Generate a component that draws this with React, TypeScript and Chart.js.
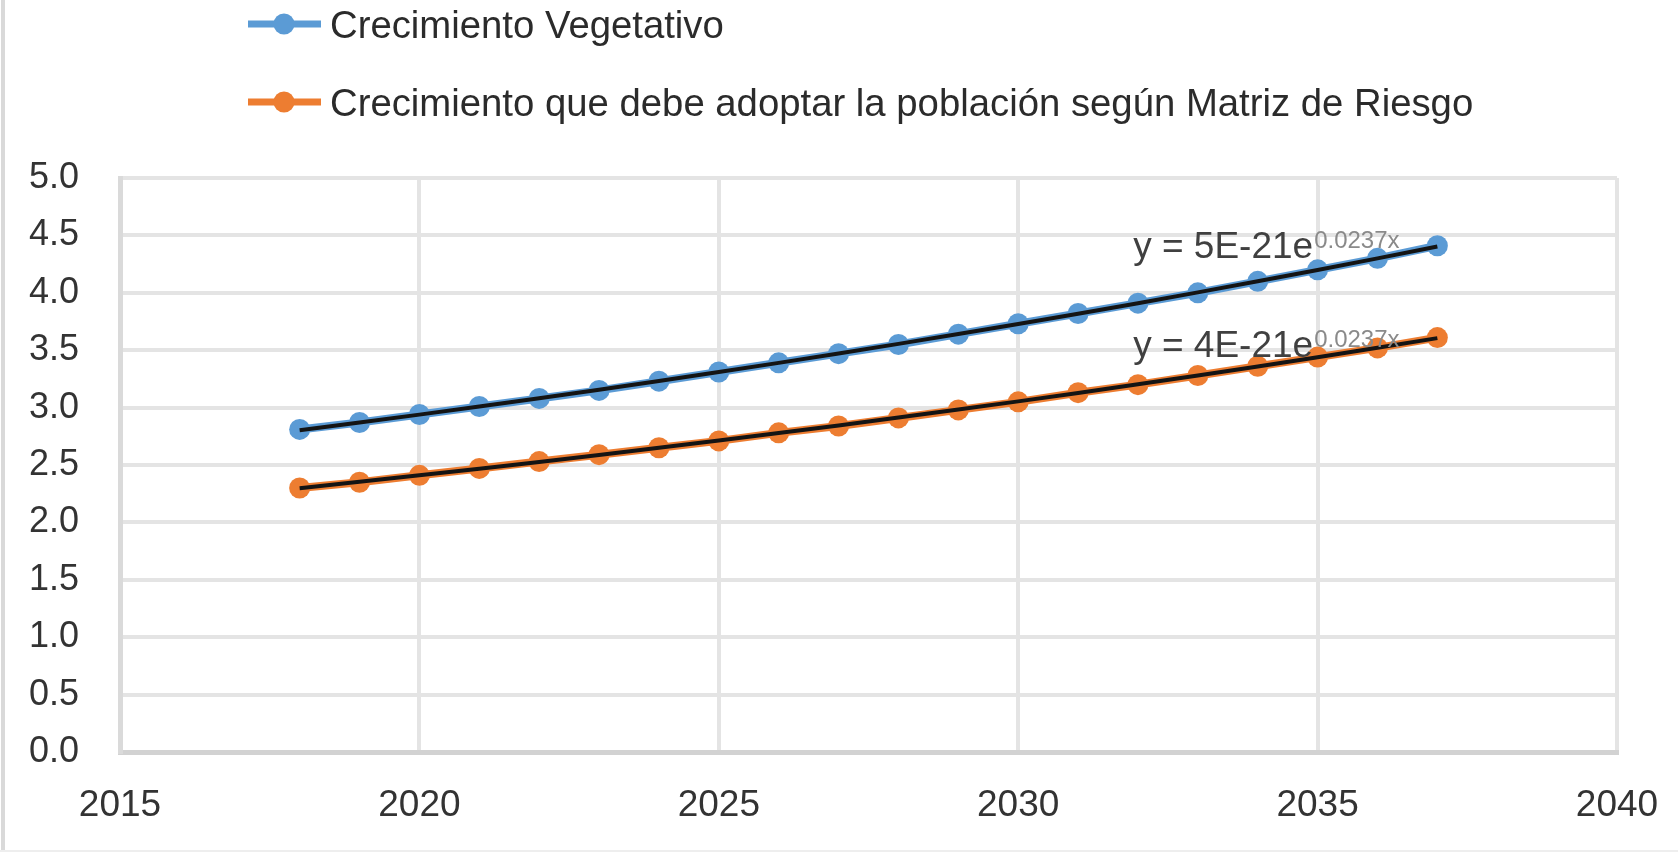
import React, { useEffect, useRef } from "react";
import { Chart, registerables } from "chart.js";

Chart.register(...registerables);

// ---------- data ----------
const years = [2018, 2019, 2020, 2021, 2022, 2023, 2024, 2025, 2026, 2027, 2028, 2029, 2030, 2031, 2032, 2033, 2034, 2035, 2036, 2037];
const vegetativo = [2.81, 2.87, 2.94, 3.01, 3.08, 3.15, 3.23, 3.31, 3.39, 3.47, 3.55, 3.64, 3.73, 3.82, 3.91, 4.0, 4.1, 4.2, 4.3, 4.41];
const matriz = [2.3, 2.35, 2.41, 2.47, 2.53, 2.59, 2.65, 2.71, 2.78, 2.84, 2.91, 2.98, 3.05, 3.13, 3.2, 3.28, 3.36, 3.44, 3.52, 3.61];
const seriesNames = ["Crecimiento Vegetativo", "Crecimiento que debe adoptar la población según Matriz de Riesgo"];
const trendLabels = ["y = 5E-21e", "y = 4E-21e"];
const trendExponents = ["0.0237x", "0.0237x"];
const xMin = 2015;
const xMax = 2040;
const xStep = 5;
const yMin = 0;
const yMax = 5;
const yStep = 0.5;

// ---------- styles ----------
const BLUE = "#5B9BD5";
const ORANGE = "#ED7D31";
const TEXT = "#333333";
const FONT = "'Liberation Sans', Arial, sans-serif";

// exponential least-squares trendline (as Excel does)
function expTrend(xs: number[], ys: number[]) {
  const n = xs.length;
  const mx = xs.reduce((a, b) => a + b, 0) / n;
  const ly = ys.map((v) => Math.log(v));
  const my = ly.reduce((a, b) => a + b, 0) / n;
  let sxy = 0;
  let sxx = 0;
  for (let i = 0; i < n; i++) {
    sxy += (xs[i] - mx) * (ly[i] - my);
    sxx += (xs[i] - mx) * (xs[i] - mx);
  }
  const b = sxy / sxx;
  return xs.map((x) => ({ x, y: Math.exp(my + b * (x - mx)) }));
}

const toPts = (ys: number[]) => years.map((x, i) => ({ x, y: ys[i] }));

const framePlugin = {
  id: "frame",
  beforeDraw(chart: any) {
    const ctx = chart.ctx;
    ctx.save();
    ctx.fillStyle = "#ffffff";
    ctx.fillRect(0, 0, chart.width, chart.height);
    ctx.strokeStyle = "#d9d9d9";
    ctx.lineWidth = 4;
    ctx.beginPath();
    ctx.moveTo(3, 0);
    ctx.lineTo(3, chart.height);
    ctx.stroke();
    ctx.strokeStyle = "#eeeeee";
    ctx.lineWidth = 2;
    ctx.beginPath();
    ctx.moveTo(0, chart.height - 1);
    ctx.lineTo(chart.width, chart.height - 1);
    ctx.stroke();
    ctx.restore();
  },
};

const legendPlugin = {
  id: "customLegend",
  afterDraw(chart: any) {
    const ctx = chart.ctx;
    const colors = [BLUE, ORANGE];
    const rowsY = [24, 102];
    ctx.save();
    seriesNames.forEach((name, i) => {
      const y = rowsY[i];
      ctx.strokeStyle = colors[i];
      ctx.lineWidth = 7;
      ctx.beginPath();
      ctx.moveTo(248, y);
      ctx.lineTo(321, y);
      ctx.stroke();
      ctx.fillStyle = colors[i];
      ctx.beginPath();
      ctx.arc(284, y, 10.5, 0, Math.PI * 2);
      ctx.fill();
      ctx.fillStyle = "#2b2b2b";
      ctx.font = `38.3px ${FONT}`;
      ctx.textBaseline = "alphabetic";
      ctx.textAlign = "left";
      ctx.fillText(name, 330, y + 13.5);
    });
    ctx.restore();
  },
};

const equationPlugin = {
  id: "equations",
  afterDatasetsDraw(chart: any) {
    const ctx = chart.ctx;
    const xs = chart.scales.x;
    const ys = chart.scales.y;
    const anchorsY = [4.3, 3.44];
    ctx.save();
    trendLabels.forEach((lab, i) => {
      const x = xs.getPixelForValue(2031.92);
      const y = ys.getPixelForValue(anchorsY[i]);
      ctx.font = `37px ${FONT}`;
      ctx.fillStyle = "#404040";
      ctx.textAlign = "left";
      ctx.textBaseline = "alphabetic";
      ctx.fillText(lab, x, y);
      const w = ctx.measureText(lab).width;
      ctx.font = `24px ${FONT}`;
      ctx.fillStyle = "#8a8a8a";
      ctx.fillText(trendExponents[i], x + w + 1, y - 10);
    });
    ctx.restore();
  },
};

export default function App() {
  const ref = useRef<HTMLCanvasElement | null>(null);

  useEffect(() => {
    document.body.style.margin = "0";
    const canvas = ref.current;
    if (!canvas) return;
    const chart = new Chart(canvas, {
      type: "line",
      data: {
        datasets: [
          {
            label: seriesNames[0] + " trend",
            data: expTrend(years, vegetativo),
            borderColor: "#141414",
            borderWidth: 4,
            pointRadius: 0,
            fill: false,
            order: 0,
          },
          {
            label: seriesNames[1] + " trend",
            data: expTrend(years, matriz),
            borderColor: "#141414",
            borderWidth: 4,
            pointRadius: 0,
            fill: false,
            order: 0,
          },
          {
            label: seriesNames[0],
            data: toPts(vegetativo),
            borderColor: BLUE,
            backgroundColor: BLUE,
            borderWidth: 8,
            pointRadius: 10.5,
            pointBorderWidth: 0,
            pointBackgroundColor: BLUE,
            fill: false,
            order: 1,
          },
          {
            label: seriesNames[1],
            data: toPts(matriz),
            borderColor: ORANGE,
            backgroundColor: ORANGE,
            borderWidth: 8,
            pointRadius: 10.5,
            pointBorderWidth: 0,
            pointBackgroundColor: ORANGE,
            fill: false,
            order: 1,
          },
        ],
      },
      options: {
        animation: false,
        responsive: false,
        devicePixelRatio: 1,
        layout: { padding: { top: 178, right: 61, bottom: 0, left: 0 } },
        plugins: {
          legend: { display: false },
          tooltip: { enabled: false },
        },
        scales: {
          x: {
            type: "linear",
            min: xMin,
            max: xMax,
            afterFit: (s: any) => {
              s.height = 100;
              s.paddingLeft = 0;
              s.paddingRight = 0;
            },
            ticks: {
              stepSize: xStep,
              padding: 32,
              color: TEXT,
              font: { family: FONT, size: 37 },
              callback: (v: any) => String(v),
            },
            grid: { color: "#e4e4e4", lineWidth: 4, drawTicks: false },
            border: { display: true, color: "#d2d2d2", width: 5 },
          },
          y: {
            min: yMin,
            max: yMax,
            afterFit: (s: any) => {
              s.width = 120;
              s.paddingTop = 0;
              s.paddingBottom = 0;
            },
            ticks: {
              stepSize: yStep,
              padding: 41,
              color: TEXT,
              font: { family: FONT, size: 36 },
              callback: (v: any) => Number(v).toFixed(1),
            },
            grid: { color: "#e4e4e4", lineWidth: 4, drawTicks: false },
            border: { display: true, color: "#dadada", width: 5 },
          },
        },
      },
      plugins: [framePlugin, legendPlugin, equationPlugin],
    });
    return () => chart.destroy();
  }, []);

  return (
    <div style={{ width: 1678, height: 852 }}>
      <canvas ref={ref} width={1678} height={852} style={{ display: "block" }} />
    </div>
  );
}
